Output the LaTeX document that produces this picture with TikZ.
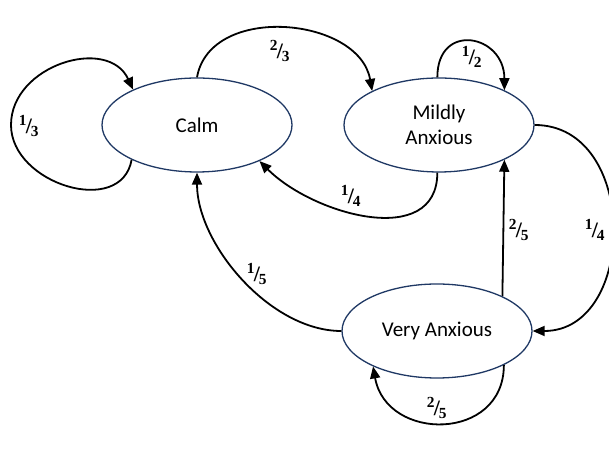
\documentclass[tikz,border=0pt]{standalone}
\usepackage{fontspec}
\setsansfont{Carlito}
\newfontfamily\fracfont{Liberation Serif}
\usetikzlibrary{arrows.meta,shapes.geometric}
\definecolor{navy}{RGB}{31,56,100}
\newcommand{\pfrac}[2]{{\fracfont\bfseries\textsuperscript{#1}\kern-0.05em/\kern-0.05em\textsubscript{#2}}}
\tikzset{
    state/.style={ellipse, draw=navy, line width=1.3pt, minimum width=190pt, minimum height=94pt,
        inner sep=0pt, align=center, font=\sffamily\fontsize{21}{25}\selectfont},
    arr/.style={line width=1.8pt, -{Triangle[length=12pt,width=10pt]}},
    prob/.style={font=\fontsize{22}{24}\selectfont, inner sep=0pt}
}
\begin{document}
\begin{tikzpicture}[x=1pt,y=1pt]
    \useasboundingbox (0,0) rectangle (609,470);
    % Draw the states
    \node[state] (calm) at (197,345) {Calm};
    \node[state] (mild) at (439,345) {Mildly\\Anxious};
    \node[state] (very) at (437,139) {Very Anxious};
    \coordinate (calmloop) at (11,345);
    % Draw the transitions
    \draw[arr] (calm.208) to[out=-100,in=-90,looseness=1.2] (calmloop) to[out=90,in=115,looseness=1.2] (calm.151);
    \draw[arr] (calm.90) to[out=80,in=100,looseness=1.1] (mild.153);
    \draw[arr] (mild.92) to[out=90,in=90,looseness=2.1] (mild.28);
    \draw[arr] (mild.268) to[out=-90,in=-45,looseness=1.1] (calm.-30);
    \draw[arr] (mild.0) to[out=0,in=0,looseness=1.3] (very.0);
    \draw[arr] (very.28) -- (mild.-28);
    \draw[arr] (very.180) to[out=180,in=-90,looseness=0.85] (calm.270);
    \draw[arr] (very.-27) to[out=-90,in=-80,looseness=1.5] (very.209);
    % Label the probabilities
    \node[prob] (p1) at (29,344) {\pfrac{1}{3}};
    \node[prob] (p2) at (280,419) {\pfrac{2}{3}};
    \node[prob] (p3) at (472,413) {\pfrac{1}{2}};
    \node[prob] (p4) at (351,274) {\pfrac{1}{4}};
    \node[prob] (p5) at (519,240) {\pfrac{2}{5}};
    \node[prob] (p6) at (595,240) {\pfrac{1}{4}};
    \node[prob] (p7) at (257,196) {\pfrac{1}{5}};
    \node[prob] (p8) at (437,62) {\pfrac{2}{5}};
\end{tikzpicture}
\end{document}
